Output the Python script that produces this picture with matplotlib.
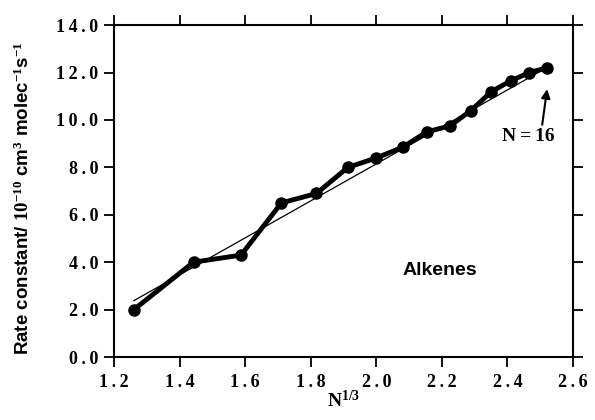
import matplotlib.pyplot as plt

# N^(1/3) for N = 2..16 and rate constants (10^-10 cm^3 molec^-1 s^-1)
x = [1.260, 1.442, 1.587, 1.710, 1.817, 1.913, 2.000, 2.080,
     2.154, 2.224, 2.289, 2.351, 2.410, 2.466, 2.520]
k = [2.0, 4.0, 4.3, 6.5, 6.9, 8.0, 8.4, 8.85,
     9.5, 9.75, 10.4, 11.2, 11.65, 12.0, 12.2]

# straight line fit
fit_slope = 7.8
fit_intercept = -7.45

xticks = [1.2, 1.4, 1.6, 1.8, 2.0, 2.2, 2.4, 2.6]
yticks = [0, 2, 4, 6, 8, 10, 12, 14]

plt.rcParams['mathtext.fontset'] = 'custom'
plt.rcParams['mathtext.rm'] = 'Liberation Serif:bold'
plt.rcParams['mathtext.bf'] = 'Liberation Serif:bold'
plt.rcParams['mathtext.default'] = 'rm'

fig = plt.figure(figsize=(5.95, 4.2), dpi=100)
ax = fig.add_axes([0.192, 0.15, 0.771, 0.79])

xf = [x[0], x[-1]]
ax.plot(xf, [fit_intercept + fit_slope * v for v in xf], color='black', lw=0.9)
ax.plot(x, k, color='black', lw=3.5, marker='o', ms=8, solid_joinstyle='round')


def spaced(v):
    return '\u2009'.join("%.1f" % v)


ax.set_xlim(1.2, 2.6)
ax.set_ylim(0, 14)
ax.set_xticks(xticks)
ax.set_yticks(yticks)
ax.set_xticklabels([spaced(v) for v in xticks], family='Liberation Serif',
                   fontweight='bold', fontsize=13)
ax.set_yticklabels([spaced(v) for v in yticks], family='Liberation Serif',
                   fontweight='bold', fontsize=13)
ax.tick_params(direction='out', length=7.5, width=1.3, top=True, right=True, pad=4)
ax.tick_params(axis='x', pad=5)
for s in ax.spines.values():
    s.set_linewidth(1.5)

ax.set_xlabel(r"N$^{1/3}$", family='Liberation Serif', fontweight='bold',
              fontsize=14, labelpad=-1)
ax.set_ylabel(r"Rate constant/ $10^{-10}$ cm$^{3}$ molec$^{-1}$s$^{-1}$",
              family='Liberation Sans', fontweight='bold', fontsize=13.5)
ax.yaxis.set_label_coords(-0.177, 0.48)

ax.text(2.194, 3.67, "Alkenes", family='Liberation Sans', fontweight='bold',
        fontsize=14, ha='center', va='center')
ax.text(2.463, 9.3, "N\u2009=\u200916", family='Liberation Serif', fontweight='bold',
        fontsize=14, ha='center', va='center')
ax.annotate("", xy=(2.521, 11.3), xytext=(2.506, 9.8),
            arrowprops=dict(arrowstyle='-|>', color='black', lw=1.5,
                            shrinkA=0, shrinkB=0, mutation_scale=13))

fig.savefig("out.png", dpi=100)
